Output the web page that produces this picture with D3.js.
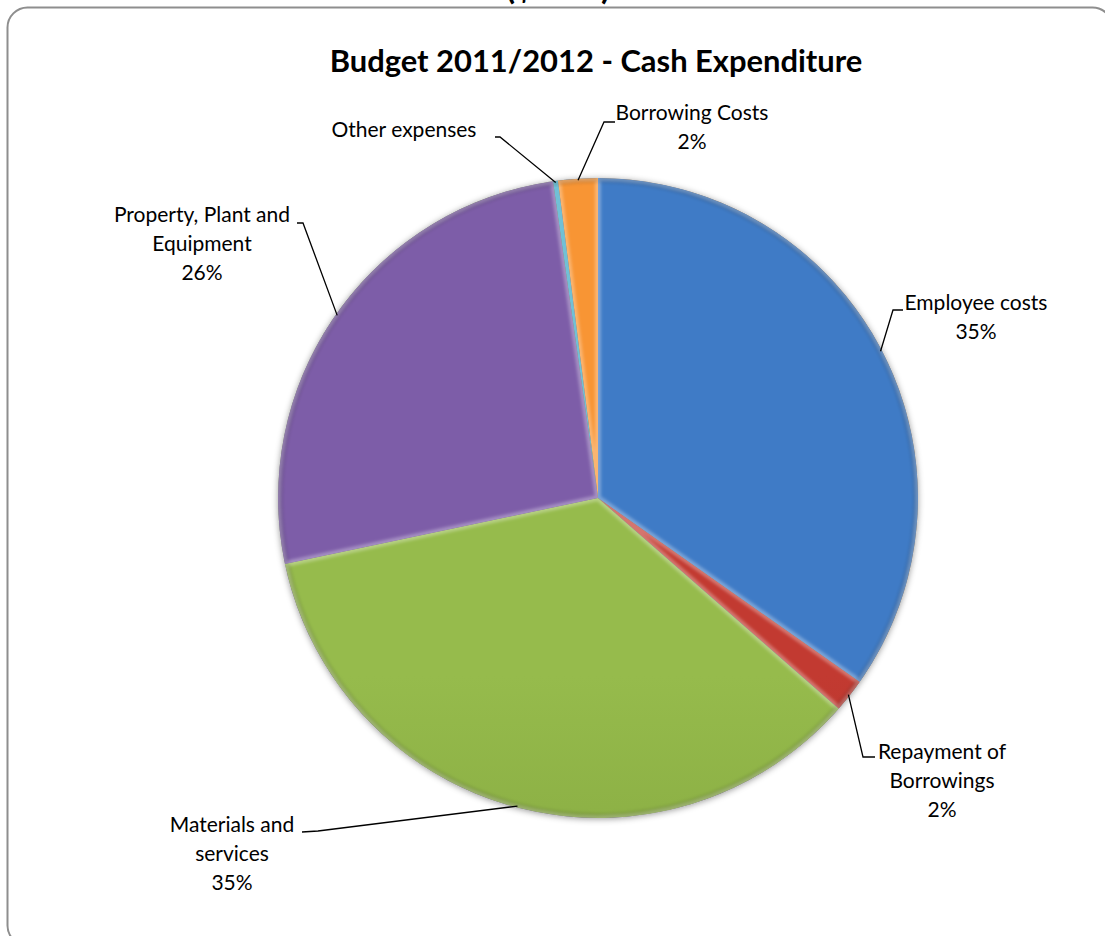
<!DOCTYPE html>
<html>
<head>
<meta charset="utf-8">
<script src="https://cdn.jsdelivr.net/npm/d3@7"></script>
<style>
  html, body { margin: 0; padding: 0; background: #fff; }
  svg { display: block; }
  text { font-family: Lato, "Open Sans", sans-serif; fill: #000; }
</style>
</head>
<body>
<svg id="chart" width="1105" height="936"></svg>
<script>
// Budget 2011/2012 cash expenditure, share of total (%)
const categories = [
  "Employee costs",
  "Repayment of Borrowings",
  "Materials and services",
  "Property, Plant and Equipment",
  "Other expenses",
  "Borrowing Costs"
];
const shares = [34.8, 1.7, 35.3, 26.1, 0.25, 2.0];
const percentLabels = ["35%", "2%", "35%", "26%", "", "2%"];
const labelLines = [
  ["Employee costs"],
  ["Repayment of", "Borrowings"],
  ["Materials and", "services"],
  ["Property, Plant and", "Equipment"],
  ["Other expenses"],
  ["Borrowing Costs"]
];
const title = "Budget 2011/2012 - Cash Expenditure";

// slice colours: [light top, dark bottom]
const sliceColors = [
  ["#3f7bc6", "#2a5590"],
  ["#c23a31", "#8e2622"],
  ["#96bb4c", "#6e8f2f"],
  ["#7d5da8", "#543c77"],
  ["#33a5c4", "#1f7a93"],
  ["#f89534", "#e0761a"]
];

// label layout: text-block centre x, first-line middle y, elbow of the leader
const labelLayout = [
  { cx: 976, y: 303, elbow: [893, 310], end: [903, 310] },
  { cx: 942, y: 752, elbow: [863, 757], end: [875, 757] },
  { cx: 232, y: 825, elbow: [318, 831], end: [302, 832] },
  { cx: 202, y: 215, elbow: [303, 223], end: [297, 223] },
  { cx: 404, y: 130, elbow: [500, 137], end: [495, 137] },
  { cx: 692, y: 113, elbow: [604, 122], end: [615, 122] }
];

const svg = d3.select("#chart");
const cx = 598, cy = 498, R = 320;
const lineGap = 29;

const defs = svg.append("defs");

// soft shadow around the pie
const shadow = defs.append("filter").attr("id", "pieShadow")
  .attr("x", "-10%").attr("y", "-10%").attr("width", "120%").attr("height", "120%");
shadow.append("feDropShadow").attr("dx", 0).attr("dy", 1)
  .attr("stdDeviation", 3).attr("flood-color", "#000").attr("flood-opacity", 0.4);

const soft = defs.append("filter").attr("id", "bevelBlur")
  .attr("x", "-10%").attr("y", "-10%").attr("width", "120%").attr("height", "120%");
soft.append("feGaussianBlur").attr("stdDeviation", 1.8);

sliceColors.forEach((c, i) => {
  const g = defs.append("linearGradient").attr("id", "grad" + i)
    .attr("gradientUnits", "userSpaceOnUse")
    .attr("x1", cx).attr("y1", cy - R).attr("x2", cx).attr("y2", cy + R);
  g.append("stop").attr("offset", "0%").attr("stop-color", c[0]);
  g.append("stop").attr("offset", "100%").attr("stop-color", c[1]);
});

// outer frame (runs past the right and bottom edges)
svg.append("rect")
  .attr("x", 7.5).attr("y", 7.5)
  .attr("width", 1105).attr("height", 938)
  .attr("rx", 20).attr("ry", 20)
  .attr("fill", "#fff").attr("stroke", "#8e8e8e").attr("stroke-width", 2);

// heading above the frame, mostly cut off
svg.append("text")
  .attr("x", 558).attr("y", -1)
  .attr("text-anchor", "middle")
  .style("font-weight", "bold").style("font-size", "34px")
  .text("($'000)");

// chart title
const titleText = svg.append("text")
  .attr("x", 596).attr("y", 72)
  .attr("text-anchor", "middle")
  .style("font-weight", "bold").style("font-size", "30px")
  .text(title);
{
  const w = titleText.node().getComputedTextLength();
  titleText.style("font-size", (30 * 533 / w).toFixed(2) + "px");
}

const pie = d3.pie().sort(null).value(d => d).startAngle(0).endAngle(2 * Math.PI);
const arcs = pie(shares);
const arc = d3.arc().innerRadius(0).outerRadius(R);

const pieG = svg.append("g").attr("transform", `translate(${cx},${cy})`);
pieG.append("circle").attr("r", R).attr("fill", "#777").attr("filter", "url(#pieShadow)");

arcs.forEach((a, i) => {
  defs.append("clipPath").attr("id", "clip" + i)
    .append("path").attr("d", arc(a));
  const g = pieG.append("g").attr("clip-path", `url(#clip${i})`);
  g.append("path").attr("d", arc(a)).attr("fill", `url(#grad${i})`);
  // bevelled edges: light rim inside every slice
  g.append("path").attr("d", arc(a))
    .attr("fill", "none").attr("stroke", "#fff")
    .attr("stroke-opacity", 0.3).attr("stroke-width", 6)
    .attr("filter", "url(#bevelBlur)");
  // slightly darker band along the outer arc
  const rim = d3.arc().innerRadius(R - 5).outerRadius(R + 2);
  g.append("path").attr("d", rim(a))
    .attr("fill", "#000").attr("fill-opacity", 0.12)
    .attr("filter", "url(#bevelBlur)");
});

// leader lines and labels
const labelG = svg.append("g");
arcs.forEach((a, i) => {
  const L = labelLayout[i];
  const mid = (a.startAngle + a.endAngle) / 2;
  const px = cx + R * 0.995 * Math.sin(mid);
  const py = cy - R * 0.995 * Math.cos(mid);
  labelG.append("polyline")
    .attr("points", [[px, py], L.elbow, L.end].map(p => p.join(",")).join(" "))
    .attr("fill", "none").attr("stroke", "#000").attr("stroke-width", 1.3);

  const lines = labelLines[i].concat(percentLabels[i] ? [percentLabels[i]] : []);
  const t = labelG.append("text")
    .attr("text-anchor", "middle")
    .style("font-size", "21px");
  lines.forEach((s, k) => {
    t.append("tspan")
      .attr("x", L.cx)
      .attr("y", L.y + k * lineGap)
      .attr("dy", "0.35em")
      .text(s);
  });
});
</script>
</body>
</html>
